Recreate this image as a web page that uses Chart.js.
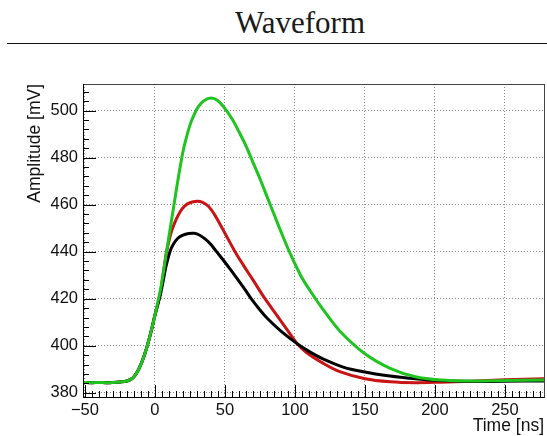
<!DOCTYPE html>
<html><head><meta charset="utf-8">
<script src="https://cdn.jsdelivr.net/npm/chart.js@4"></script>
<style>
html,body{margin:0;padding:0;background:#fff;}
#wrap{position:relative;width:547px;height:436px;overflow:hidden;background:#fff;}
#title{position:absolute;left:0;width:600px;top:7px;line-height:31px;text-align:center;font-family:"Liberation Serif";font-size:31px;color:#1a1a1a;}
#rule{position:absolute;left:7px;right:0;top:42.5px;height:1.5px;background:#111;}
canvas{position:absolute;left:0;top:0;}
</style></head>
<body>
<div id="wrap">
<div id="title">Waveform</div>
<div id="rule"></div>
<canvas id="c" width="547" height="436"></canvas>
</div>
<script>
// Tick labels
const xTickValues = [-50, 0, 50, 100, 150, 200, 250];
const yTickValues = [380, 400, 420, 440, 460, 480, 500];

// Shared baseline / rising edge (time ns, amplitude mV)
const riseT = [-51.5, -45, -40, -35, -30, -25, -20, -17, -15, -13, -11, -9, -7, -5, -3, -1, 0];
const riseV = [384.4, 384.3, 384.4, 384.3, 384.4, 384.6, 385.0, 385.8, 386.8, 388.5, 390.8, 393.6, 397, 401, 405.5, 410.5, 413];

// Green waveform after t=0
const greenT = [2, 4, 6, 8, 10, 12, 14, 16, 18, 20, 22, 25, 28, 31, 35, 40, 45, 50, 55, 60, 65, 70, 75, 80, 85, 90, 96.4, 104, 110.7, 120, 132, 150, 168, 186, 204, 225, 250, 278];
const greenV = [418.5, 424, 431, 439, 446.5, 454, 461.5, 469, 476, 482.5, 487.5, 493.8, 498.3, 501.7, 504.2, 505.3, 504.2, 500.8, 496.5, 491, 485, 478, 471, 463.5, 456, 448.5, 439.5, 430, 423.5, 415.5, 406.3, 396.6, 390.4, 386.8, 385.4, 385, 385.2, 385.4];

// Red waveform after t=0
const redT = [2, 4, 6, 8, 10, 12, 15, 18, 21, 25, 30, 34, 38, 42, 46, 50, 57, 63, 70, 78.6, 87, 95, 101, 108, 120, 132, 150, 168, 186, 204, 225, 250, 278];
const redV = [417.5, 423, 431, 439, 444.5, 449, 453.5, 457, 459.3, 460.8, 461.4, 461, 459.4, 456.3, 452.2, 447.8, 440.2, 434.4, 428, 420, 413, 406.3, 401.3, 397.2, 392.6, 389, 386, 384.7, 384.3, 384.5, 384.9, 385.5, 386];

// Black waveform after t=0
const blackT = [2, 4, 6, 8, 10.7, 13, 16, 20, 24, 28, 32, 36, 40, 44, 50, 55, 60, 65, 69, 75, 80, 90, 101, 110, 120, 135, 150, 165, 180, 200, 225, 250, 278];
const blackV = [417.5, 422, 428, 434, 440, 443, 445.5, 447, 447.7, 447.8, 447, 445.3, 443, 440, 435.5, 431.5, 427.5, 423.3, 419.8, 415.2, 411.8, 406.2, 401.1, 397.6, 394.4, 390.8, 388.8, 387.3, 386.3, 385.3, 384.8, 384.9, 385];

function pts(t, v) {
  const a = riseT.map((x, i) => ({x: x, y: riseV[i]}));
  return a.concat(t.map((x, i) => ({x: x, y: v[i]})));
}

const tickFont = {family: 'Liberation Sans', size: 16.5};

const inTicks = {
  id: 'inTicks',
  afterDraw(chart) {
    const {ctx, chartArea: {left, right, top, bottom}, scales: {x, y}} = chart;
    ctx.save();
    ctx.strokeStyle = '#000';
    ctx.lineWidth = 1;
    ctx.beginPath();
    for (let v = -50; v <= 278; v += 5) {
      const px = Math.round(x.getPixelForValue(v)) + 0.5;
      const len = (v % 50 === 0) ? 12 : 6;
      ctx.moveTo(px, bottom); ctx.lineTo(px, bottom - len);
    }
    for (let v = 380; v <= 511; v += 4) {
      const py = Math.round(y.getPixelForValue(v)) + 0.5;
      const len = ((v - 380) % 20 === 0) ? 13 : 6;
      ctx.moveTo(left, py); ctx.lineTo(left + len, py);
    }
    ctx.stroke();
    // frame
    ctx.strokeStyle = '#444';
    ctx.strokeRect(Math.round(left) + 0.5, Math.round(top) + 0.5, Math.round(right - left), Math.round(bottom - top));
    ctx.strokeStyle = '#000';
    ctx.beginPath();
    ctx.moveTo(Math.round(left) + 0.5, Math.round(top));
    ctx.lineTo(Math.round(left) + 0.5, Math.round(bottom) + 0.5);
    ctx.lineTo(Math.round(right) + 0.5, Math.round(bottom) + 0.5);
    ctx.stroke();
    ctx.restore();
  }
};

const lineStyle = {borderWidth: 3, pointRadius: 0, tension: 0.35, fill: false};

new Chart(document.getElementById('c'), {
  type: 'line',
  data: {
    datasets: [
      Object.assign({label: 'green', data: pts(greenT, greenV), borderColor: '#20c420'}, lineStyle),
      Object.assign({label: 'black', data: pts(blackT, blackV), borderColor: '#000000'}, lineStyle),
      Object.assign({label: 'red', data: pts(redT, redV), borderColor: '#c81414'}, lineStyle)
    ]
  },
  options: {
    responsive: false,
    animation: false,
    devicePixelRatio: 1,
    layout: {padding: {left: 0, right: 3, top: 84, bottom: 0}},
    plugins: {legend: {display: false}, tooltip: {enabled: false}, title: {display: false}},
    elements: {line: {borderCapStyle: 'round', borderJoinStyle: 'round'}},
    scales: {
      x: {
        type: 'linear', min: -51.4, max: 277.9,
        afterBuildTicks: s => { s.ticks = xTickValues.map(v => ({value: v})); },
        afterFit: s => { s.height = 39; },
        ticks: {font: tickFont, color: '#111', padding: 4, maxRotation: 0, autoSkip: false,
          callback: v => (v < 0 ? '\u2212' + Math.abs(v) : String(v))},
        grid: {color: '#8a8a8a', lineWidth: 1, drawTicks: false},
        border: {display: false, dash: [1, 2]},
        title: {display: true, text: 'Time [ns]', align: 'end', color: '#111',
          font: {family: 'Liberation Sans', size: 17.5, lineHeight: 1.1}, padding: {top: 0, bottom: 0}}
      },
      y: {
        type: 'linear', min: 378.2, max: 511.3,
        afterBuildTicks: s => { s.ticks = yTickValues.map(v => ({value: v})); },
        afterFit: s => { s.width = 83; },
        ticks: {font: tickFont, color: '#111', padding: 5, autoSkip: false},
        grid: {color: '#8a8a8a', lineWidth: 1, drawTicks: false},
        border: {display: false, dash: [1, 2]},
        title: {display: true, text: 'Amplitude [mV]', align: 'end', color: '#111',
          font: {family: 'Liberation Sans', size: 17.5, lineHeight: 1.2}, padding: {top: 24.5, bottom: 0}}
      }
    }
  },
  plugins: [inTicks]
});
</script>
</body></html>
